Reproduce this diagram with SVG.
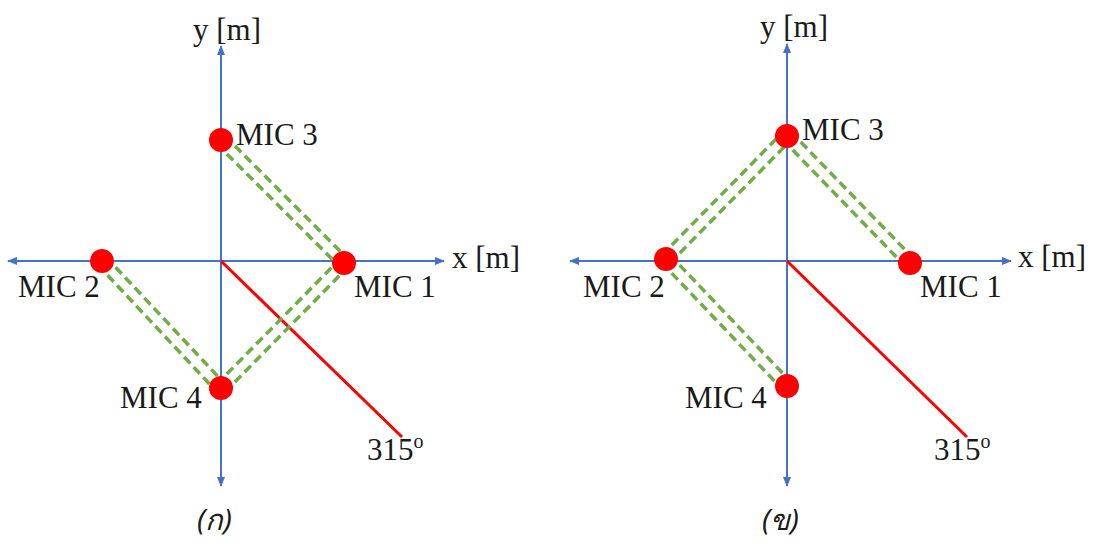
<svg xmlns="http://www.w3.org/2000/svg" width="1098" height="545" viewBox="0 0 1098 545">
<defs>
<marker id="ah" viewBox="0 0 10 10" refX="9" refY="5" markerWidth="10" markerHeight="10" markerUnits="userSpaceOnUse" orient="auto">
<path d="M0,1 L10,5 L0,9 Z" fill="#4472C4"/>
</marker>
<style>
.ax{stroke:#4472C4;stroke-width:2;fill:none}
.gd{stroke:#70AD47;stroke-width:3.5;stroke-dasharray:9,5;fill:none}
.rd{stroke:#FF0000;stroke-width:3;fill:none}
.mic{fill:#FF0000}
.t{font-family:"Liberation Serif","Times New Roman",serif;font-size:31px;fill:#1a1a1a}
.th{font-family:"Noto Sans","DejaVu Sans",sans-serif;font-size:29px;font-style:italic;fill:#1a1a1a}
</style>
</defs>
<rect width="1098" height="545" fill="#ffffff"/>

<g id="panel-a">
<g id="connectors-a">
<line class="ax" x1="221" y1="261" x2="221" y2="46" marker-end="url(#ah)"/>
<line class="ax" x1="221" y1="261" x2="221" y2="486" marker-end="url(#ah)"/>
<line class="ax" x1="221" y1="261" x2="444" y2="261" marker-end="url(#ah)"/>
<line class="ax" x1="221" y1="261" x2="8" y2="261" marker-end="url(#ah)"/>
<line class="rd" x1="221" y1="261" x2="402" y2="437"/>
<line class="gd" x1="225" y1="136" x2="348" y2="259"/>
<line class="gd" x1="217" y1="144" x2="340" y2="267"/>
<line class="gd" x1="106" y1="257" x2="225" y2="384"/>
<line class="gd" x1="98" y1="265" x2="217" y2="392"/>
<line class="gd" x1="217" y1="384" x2="340" y2="259"/>
<line class="gd" x1="225" y1="392" x2="348" y2="267"/>
</g>
<g id="mic3-a"><circle class="mic" cx="221" cy="140" r="12"/><text class="t" x="236" y="145">MIC 3</text></g>
<g id="mic2-a"><circle class="mic" cx="102" cy="261" r="12"/><text class="t" x="18" y="297">MIC 2</text></g>
<g id="mic1-a"><circle class="mic" cx="344" cy="263" r="12"/><text class="t" x="354" y="297">MIC 1</text></g>
<g id="mic4-a"><circle class="mic" cx="221" cy="388" r="12"/><text class="t" x="120" y="408">MIC 4</text></g>
<g id="labels-a">
<text class="t" x="193" y="40">y [m]</text>
<text class="t" x="452" y="268">x [m]</text>
<text class="t" x="367" y="460">315<tspan font-size="20" dy="-12">o</tspan></text>
<text class="th" x="197" y="530">(ก)</text>
</g>
</g>

<g id="panel-b">
<g id="connectors-b">
<line class="ax" x1="787" y1="261" x2="787" y2="44" marker-end="url(#ah)"/>
<line class="ax" x1="787" y1="261" x2="787" y2="486" marker-end="url(#ah)"/>
<line class="ax" x1="787" y1="261" x2="1011" y2="261" marker-end="url(#ah)"/>
<line class="ax" x1="787" y1="261" x2="570" y2="261" marker-end="url(#ah)"/>
<line class="rd" x1="787" y1="261" x2="967" y2="437"/>
<line class="gd" x1="662" y1="255" x2="783" y2="132"/>
<line class="gd" x1="670" y1="263" x2="791" y2="140"/>
<line class="gd" x1="791" y1="132" x2="914" y2="259"/>
<line class="gd" x1="783" y1="140" x2="906" y2="267"/>
<line class="gd" x1="670" y1="255" x2="791" y2="382"/>
<line class="gd" x1="662" y1="263" x2="783" y2="390"/>
</g>
<g id="mic3-b"><circle class="mic" cx="787" cy="136" r="12"/><text class="t" x="802" y="140">MIC 3</text></g>
<g id="mic2-b"><circle class="mic" cx="666" cy="259" r="12"/><text class="t" x="583" y="297">MIC 2</text></g>
<g id="mic1-b"><circle class="mic" cx="910" cy="263" r="12"/><text class="t" x="920" y="297">MIC 1</text></g>
<g id="mic4-b"><circle class="mic" cx="787" cy="386" r="12"/><text class="t" x="685" y="408">MIC 4</text></g>
<g id="labels-b">
<text class="t" x="760" y="37">y [m]</text>
<text class="t" x="1018" y="267">x [m]</text>
<text class="t" x="934" y="460">315<tspan font-size="20" dy="-12">o</tspan></text>
<text class="th" x="762" y="530">(ข)</text>
</g>
</g>
</svg>
